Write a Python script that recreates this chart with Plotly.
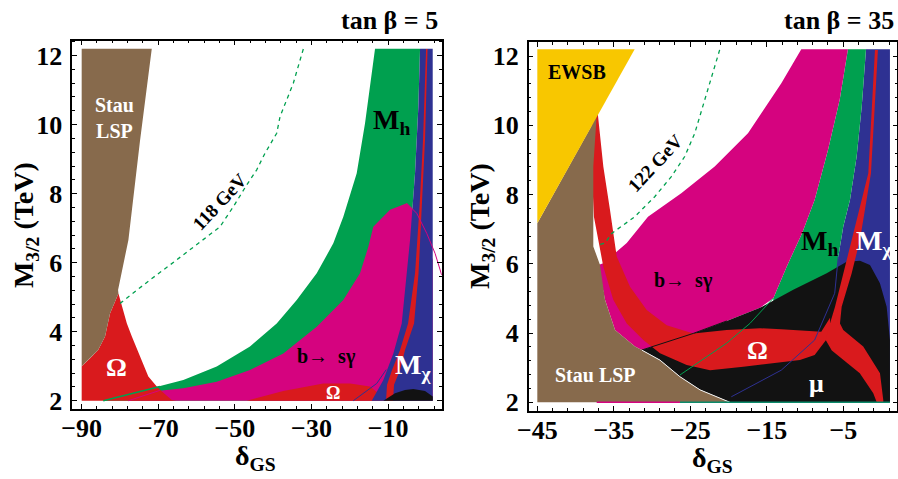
import plotly.graph_objects as go

FONT = "Liberation Serif"
BROWN = "#876A4C"; RED = "#D91A1D"; PINK = "#D5037F"; GREEN = "#00A04F"
BLUE = "#2E3192"; BLACK = "#121212"; YELLOW = "#F8C700"

# ---------------- left panel (tan beta = 5) ----------------
L_STAU_X = [-90, -71.7, -74.8, -77.8, -80.5, -80.4, -82.6, -83.9, -85.7, -87.8, -90]
L_STAU_Y = [12.2, 12.2, 9.5, 6.66, 5.21, 5.11, 4.53, 3.86, 3.47, 3.23, 3.0]

L_OMEGA1_X = [-90, -90, -87.8, -85.7, -83.9, -82.6, -80.4, -79.1, -78.2, -76.9, -74.8, -72.6, -70.0, -66.5, -65.2]
L_OMEGA1_Y = [2.0, 3.0, 3.23, 3.47, 3.86, 4.53, 5.11, 4.63, 4.24, 3.86, 3.28, 2.70, 2.36, 2.02, 2.0]

L_MH_X = [-84.36, -69.56, -63.47, -54.75, -46.06, -39.09, -33.86, -28.64, -24.31, -21.70, -18.20, -16.03,
          -14.28, -13.42, -1.67, -2.11, -2.98, -4.28, -6.0, -8.0]
L_MH_Y = [2.0, 2.41, 2.60, 2.99, 3.57, 4.24, 4.92, 5.69, 6.56, 7.33, 8.59, 10.04,
          11.49, 12.2, 12.2, 10.52, 8.59, 6.66, 4.0, 2.0]

L_BSG_X = [-77.83, -72.17, -63.47, -54.75, -46.06, -37.36, -28.64, -21.70, -17.34, -15.17, -13.87, -9.50,
           -5.14, -2.53, -0.37, 1.64, 1.64]
L_BSG_Y = [2.0, 2.26, 2.36, 2.55, 2.89, 3.37, 4.14, 4.92, 5.69, 6.46, 7.04, 7.53,
           7.72, 7.43, 6.80, 6.08, 2.0]

L_OMEGA2_X = [-46.92, -37.36, -26.92, -19.95, -14.73, -12.1, -10.8]
L_OMEGA2_Y = [2.0, 2.28, 2.50, 2.50, 2.41, 2.17, 2.0]

L_MCHI_X = [-1.67, 1.64, 1.64, -14.28, -11.25, -8.64, -6.45, -5.14, -4.28, -2.98, -2.11]
L_MCHI_Y = [12.2, 12.2, 2.0, 2.0, 2.60, 3.37, 4.24, 5.69, 6.66, 8.59, 10.52]

L_OMEGA3_X = [-0.10, -0.89, -1.80, -2.98, -4.80, -6.89, -8.98, -10.29, -10.55,
              -8.72, -8.46, -6.89, -5.59, -3.23, -2.06, -1.15, -0.37, 0.29]
L_OMEGA3_Y = [12.19, 9.56, 7.62, 5.69, 4.24, 3.47, 2.89, 2.46, 2.0,
              2.0, 2.46, 2.89, 3.47, 4.24, 5.69, 7.62, 9.56, 12.19]

L_MU_X = [-11.25, -8.2, -5.6, -3.42, -0.37, 1.64, 1.64]
L_MU_Y = [2.0, 2.22, 2.31, 2.34, 2.28, 2.12, 2.0]

L_MH_EDGE_X = [-84.36, -69.56]
L_MH_EDGE_Y = [2.0, 2.41]
L_BSG_EDGE_X = [-77.83, -69.6]
L_BSG_EDGE_Y = [2.0, 2.3]
L_MCHI_EDGE_X = [-19.09, -12.98, -10.5]
L_MCHI_EDGE_Y = [2.0, 2.5, 2.9]
L_BSG_TAIL_X = [-5.14, -2.53, 0.08, 2.25, 3.99]
L_BSG_TAIL_Y = [7.72, 7.43, 6.85, 6.27, 5.64]

L_H118_X = [-32.14, -34.75, -38.22, -39.09, -42.14, -44.31, -46.92, -50.42, -53.89, -58.25, -65.20, -72.17, -76.53, -80.0]
L_H118_Y = [12.19, 11.20, 10.23, 9.75, 9.17, 8.69, 8.25, 7.62, 7.04, 6.66, 6.08, 5.50, 5.11, 4.82]

# ---------------- right panel (tan beta = 35) ----------------
R_EWSB_X = [-45, -32.27, -45]
R_EWSB_Y = [12.2, 12.2, 7.17]

R_STAU_X = [-45, -37.25, -37.68, -37.68, -36.80, -36.15, -34.84, -32.23, -31.35, -28.97, -26.35, -23.73, -19.81, -45]
R_STAU_Y = [7.17, 10.25, 8.81, 6.50, 5.97, 4.96, 4.09, 3.61, 3.51, 3.22, 2.74, 2.36, 2.0, 2.0]

R_BSG_X = [-10.49, -13.10, -17.46, -21.81, -26.18, -30.53, -33.31, -36.37, -37.03, -36.15, -34.84, -32.23,
           -31.35, -24.61, -20.24, -15.89, -14.15, -12.40, -10.40, -8.74, -7.00, -5.47, -4.39]
R_BSG_Y = [12.2, 11.22, 9.77, 8.81, 8.04, 7.36, 6.60, 6.02, 5.97, 4.96, 4.09, 3.61,
           3.51, 3.99, 4.35, 4.73, 5.01, 5.92, 6.88, 7.85, 9.29, 10.74, 12.2]

R_MH_X = [-4.39, -5.47, -7.00, -8.74, -10.40, -12.40, -14.15, -14.15, -5.8, -5.65, -5.0, -4.12, -3.25, -2.59, -2.03]
R_MH_Y = [12.2, 10.74, 9.29, 7.85, 6.88, 5.92, 5.01, 4.6, 5.0, 6.21, 7.08, 7.85, 9.10, 10.54, 12.2]

R_MCHI_X = [-2.03, 1.1, 1.1, -19.6, -13.1, -8.74, -6.12, -5.65, -5.0, -4.12, -3.25, -2.59]
R_MCHI_Y = [12.2, 12.2, 2.0, 2.0, 2.93, 3.80, 5.15, 6.21, 7.08, 7.85, 9.10, 10.54]

R_MU_X = [-31.35, -24.61, -20.24, -15.89, -11.54, -7.17, -4.56, -2.82, -1.51, -0.21, 0.67, 1.10, 1.10,
          -19.81, -23.73, -26.35, -28.97]
R_MU_Y = [3.51, 3.99, 4.35, 4.73, 5.25, 5.73, 6.06, 6.09, 5.97, 5.44, 4.76, 3.80, 2.0,
          2.0, 2.36, 2.74, 3.22]

R_OMEGA1_X = [-37.90, -37.90, -37.60, -37.30, -36.80, -36.37, -35.07, -33.31, -31.14, -28.96, -25.47, -22.42,
              -18.07, -13.71, -10.66, -8.74, -7.78, -6.73,
              -6.73, -7.88, -13.10, -15.89, -20.24, -24.61, -28.09, -30.70, -32.88, -34.62, -35.50, -36.37, -37.10]
R_OMEGA1_Y = [10.40, 8.81, 7.36, 7.00, 6.40, 5.92, 4.96, 4.28, 3.80, 3.42, 3.08, 2.93,
              3.03, 3.13, 3.22, 3.37, 3.66, 3.95,
              4.44, 4.04, 4.11, 4.14, 4.09, 3.99, 4.23, 4.67, 5.34, 6.21, 7.56, 8.81, 10.35]

R_OMEGA2_X = [-0.86, -1.73, -3.90, -5.0, -6.08, -6.74, -7.3, -6.5, -2.84, -1.08, -0.63, 0.23, 0.23, -0.20,
              -2.39, -5.0, -5.43, -5.21, -3.90, -2.82, -1.38, -0.47]
R_OMEGA2_Y = [12.18, 8.62, 6.69, 5.73, 4.76, 4.28, 3.8, 3.5, 2.84, 2.26, 2.0, 2.0, 2.07, 2.84,
              3.61, 4.09, 4.28, 4.76, 5.73, 6.69, 8.62, 12.18]

R_MU_EDGE_X = [-31.35, -24.61, -20.24]
R_MU_EDGE_Y = [3.51, 3.99, 4.35]
R_MCHI_EDGE_X = [-19.64, -13.1, -8.74, -6.12, -5.65]
R_MCHI_EDGE_Y = [2.16, 2.93, 3.80, 5.15, 6.21]
R_MH_EDGE_X = [-26.35, -20.24, -17.2, -14.15]
R_MH_EDGE_Y = [2.79, 3.71, 4.28, 5.01]
R_STAU_EDGE_X = [-31.35, -28.97, -26.35, -23.73, -19.81]
R_STAU_EDGE_Y = [3.51, 3.22, 2.74, 2.36, 2.0]
R_BOT_PINK_X = [-37.24, -26.35]
R_BOT_GREEN_X = [-26.35, 1.1]
R_BOT_Y = [2.0, 2.0]

R_H122_X = [-21.16, -21.81, -22.69, -23.56, -24.42, -25.73, -27.48, -29.65, -32.27, -35.27, -36.15, -37.03]
R_H122_Y = [12.18, 11.70, 11.03, 10.45, 9.77, 9.10, 8.52, 7.94, 7.36, 6.88, 6.60, 6.55]

fig = go.Figure()


def region(x, y, color, xa, ya):
    fig.add_trace(go.Scatter(x=list(x) + [x[0]], y=list(y) + [y[0]], mode="lines", fill="toself",
                             fillcolor=color, line=dict(width=0, color=color),
                             xaxis=xa, yaxis=ya, hoverinfo="skip"))


def curve(x, y, color, w, xa, ya, dash="solid"):
    fig.add_trace(go.Scatter(x=x, y=y, mode="lines", line=dict(width=w, color=color, dash=dash),
                             xaxis=xa, yaxis=ya, hoverinfo="skip"))


# left panel layers
region(L_MH_X, L_MH_Y, GREEN, "x", "y")
region(L_BSG_X, L_BSG_Y, PINK, "x", "y")
region(L_OMEGA1_X, L_OMEGA1_Y, RED, "x", "y")
region(L_OMEGA2_X, L_OMEGA2_Y, RED, "x", "y")
region(L_STAU_X, L_STAU_Y, BROWN, "x", "y")
region(L_MCHI_X, L_MCHI_Y, BLUE, "x", "y")
region(L_OMEGA3_X, L_OMEGA3_Y, RED, "x", "y")
region(L_MU_X, L_MU_Y, BLACK, "x", "y")
curve(L_MH_EDGE_X, L_MH_EDGE_Y, GREEN, 1.5, "x", "y")
curve(L_BSG_EDGE_X, L_BSG_EDGE_Y, PINK, 1.0, "x", "y")
curve(L_MCHI_EDGE_X, L_MCHI_EDGE_Y, BLUE, 1.0, "x", "y")
curve(L_BSG_TAIL_X, L_BSG_TAIL_Y, PINK, 1.0, "x", "y")
curve(L_H118_X, L_H118_Y, GREEN, 1.3, "x", "y", dash="4px,4px")

# right panel layers
region(R_MCHI_X, R_MCHI_Y, BLUE, "x2", "y2")
region(R_MH_X, R_MH_Y, GREEN, "x2", "y2")
region(R_BSG_X, R_BSG_Y, PINK, "x2", "y2")
region(R_MU_X, R_MU_Y, BLACK, "x2", "y2")
region(R_OMEGA1_X, R_OMEGA1_Y, RED, "x2", "y2")
region(R_OMEGA2_X, R_OMEGA2_Y, RED, "x2", "y2")
region(R_STAU_X, R_STAU_Y, BROWN, "x2", "y2")
region(R_EWSB_X, R_EWSB_Y, YELLOW, "x2", "y2")
curve(R_MU_EDGE_X, R_MU_EDGE_Y, BLACK, 1.0, "x2", "y2")
curve(R_MCHI_EDGE_X, R_MCHI_EDGE_Y, BLUE, 1.0, "x2", "y2")
curve(R_MH_EDGE_X, R_MH_EDGE_Y, GREEN, 1.0, "x2", "y2")
curve(R_STAU_EDGE_X, R_STAU_EDGE_Y, "#F0F0F0", 1.0, "x2", "y2")
curve(R_BOT_PINK_X, R_BOT_Y, PINK, 1.5, "x2", "y2")
curve(R_BOT_GREEN_X, R_BOT_Y, "#0C8A6A", 1.5, "x2", "y2")
curve(R_H122_X, R_H122_Y, GREEN, 1.3, "x2", "y2", dash="4px,4px")

tickfont = dict(family=FONT, size=26, color="black", weight="bold")


def axis(**kw):
    d = dict(showline=True, linecolor="black", linewidth=1.5, mirror="allticks", ticks="inside",
             ticklen=5, tickwidth=1, tickcolor="black", showgrid=False, zeroline=False,
             tickfont=tickfont, tickmode="linear", fixedrange=True, automargin=False)
    d.update(kw)
    return d


fig.update_layout(
    template="none",
    width=898, height=479, margin=dict(l=0, r=0, t=0, b=0, pad=0),
    paper_bgcolor="white", plot_bgcolor="white", showlegend=False,
    xaxis=axis(domain=[0.0805, 0.4919], range=[-92.45, 3.99], tick0=-90, dtick=20, anchor="y",
               ticklabelstandoff=-5,
               minor=dict(ticks="inside", ticklen=3, tickcolor="black", tick0=-90, dtick=4, showgrid=False)),
    yaxis=axis(domain=[0.1461, 0.9150], range=[1.76, 12.43], tick0=2, dtick=2, anchor="x",
               ticklabelstandoff=3,
               minor=dict(ticks="inside", ticklen=3, tickcolor="black", tick0=2, dtick=0.4, showgrid=False)),
    xaxis2=axis(domain=[0.5888, 0.9992], range=[-46.12, 2.06], tick0=-45, dtick=10, anchor="y2",
                ticklabelstandoff=-5,
                minor=dict(ticks="inside", ticklen=3, tickcolor="black", tick0=-45, dtick=2, showgrid=False)),
    yaxis2=axis(domain=[0.1420, 0.9117], range=[1.75, 12.40], tick0=2, dtick=2, anchor="x2",
                ticklabelstandoff=3,
                minor=dict(ticks="inside", ticklen=3, tickcolor="black", tick0=2, dtick=0.4, showgrid=False)),
)


def label(text, x, y, size, color="black", xref="x", yref="y", angle=0, xanchor="center"):
    fig.add_annotation(text=text, x=x, y=y, xref=xref, yref=yref, showarrow=False, textangle=angle,
                       xanchor=xanchor, yanchor="middle",
                       font=dict(family=FONT, size=size, color=color, weight="bold"))


# titles
label("tan β = 5", 0.490, 0.958, 26, xref="paper", yref="paper", xanchor="right")
label("tan β = 35", 0.998, 0.958, 26, xref="paper", yref="paper", xanchor="right")
label("M<sub>3/2</sub> (TeV)", 0.0278, 0.530, 28, xref="paper", yref="paper", angle=-90)
label("M<sub>3/2</sub> (TeV)", 0.5356, 0.528, 28, xref="paper", yref="paper", angle=-90)
label("δ<sub>GS</sub>", 0.284, 0.045, 28, xref="paper", yref="paper")
label("δ<sub>GS</sub>", 0.793, 0.041, 28, xref="paper", yref="paper")

# left labels
label("Stau<br>LSP", -81.3, 10.19, 20, "white")
label("M<sub>h</sub>", -9.0, 10.08, 28)
label("b→  sγ", -26.2, 3.27, 20)
label("Ω", -80.8, 2.95, 26, "white")
label("Ω", -24.4, 2.23, 18, "white")
label("M<sub>χ</sub>", -3.5, 2.98, 28, "white")
label("118 GeV", -53.9, 7.77, 19, angle=-47)

# right labels
label("EWSB", -39.81, 11.55, 20, xref="x2", yref="y2")
label("122 GeV", -29.65, 8.91, 19, xref="x2", yref="y2", angle=-47)
label("M<sub>h</sub>", -8.07, 6.63, 28, xref="x2", yref="y2")
label("M<sub>χ</sub>", -1.01, 6.63, 28, "white", xref="x2", yref="y2")
label("b→  sγ", -25.95, 5.51, 20, xref="x2", yref="y2")
label("Ω", -16.15, 3.51, 26, "white", xref="x2", yref="y2")
label("Stau LSP", -37.33, 2.79, 20, "white", xref="x2", yref="y2")
label("μ", -8.46, 2.53, 26, "white", xref="x2", yref="y2")

fig.write_html("out.html", config={"displayModeBar": False},
               post_script="document.body.style.margin='0';document.body.style.overflow='hidden';")
